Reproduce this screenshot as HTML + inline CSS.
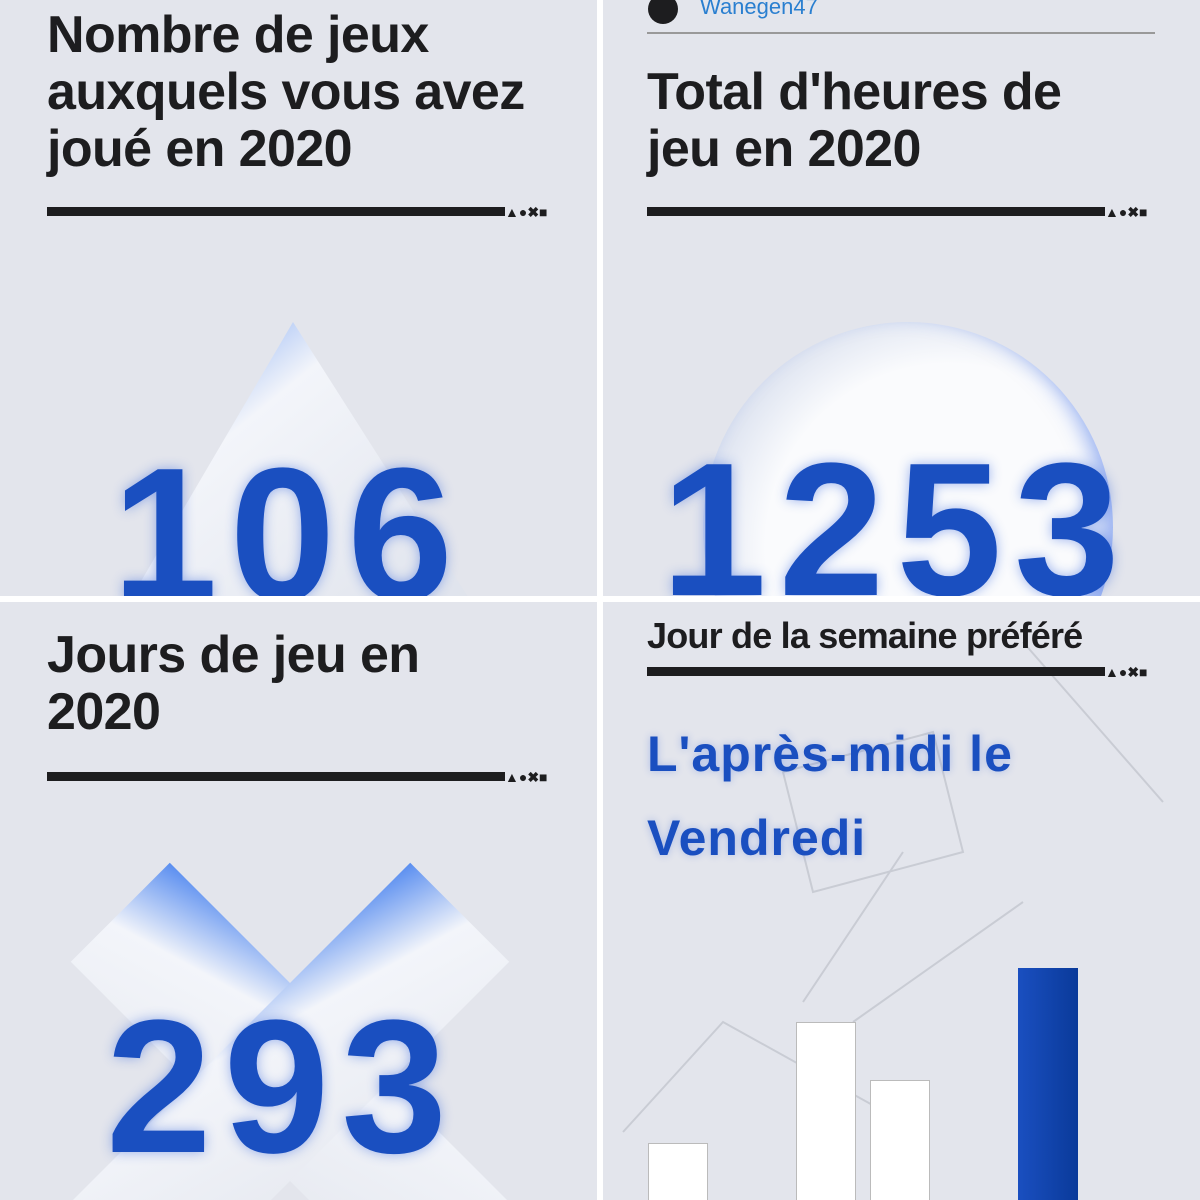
<!DOCTYPE html>
<html><head><meta charset="utf-8"><style>
html,body{margin:0;width:1200px;height:1200px;overflow:hidden}
body{background:#fff;position:relative;font-family:"Liberation Sans",sans-serif}
.p{position:absolute;background:#e3e5ec;overflow:hidden}
.t{position:absolute;color:#1d1d1f;font-weight:bold;font-size:52px;line-height:57px;letter-spacing:-0.6px;white-space:nowrap}
.bar{position:absolute;height:9px;background:#1d1d1f}
.sym{position:absolute;font-size:14px;line-height:14px;font-weight:bold;color:#1d1d1f}
.num{position:absolute;color:#1a4fc0;font-weight:bold;font-size:190px;line-height:190px;letter-spacing:12px;text-shadow:0 0 12px rgba(40,90,220,.45)}
</style></head><body>
<div class="p" style="left:0;top:0;width:597px;height:596px">
 <div class="t" style="left:47px;top:7px">Nombre de jeux<br>auxquels vous avez<br>joué en 2020</div>
 <div class="bar" style="left:47px;top:207px;width:458px"></div><div class="sym" style="left:505px;top:205px">▲●✖■</div>
 <svg style="position:absolute;left:0;top:0" width="597" height="596"><defs><linearGradient id="g1" x1="0" y1="0" x2="1" y2="1"><stop offset="0" stop-color="#5a8ef0"/><stop offset=".35" stop-color="#f3f5fa"/><stop offset="1" stop-color="#dfe3ec"/></linearGradient></defs><polygon points="293,322 130,600 470,600" fill="url(#g1)"/></svg>
 <div class="num" style="left:112px;top:440px">106</div>
</div>
<div class="p" style="left:603px;top:0;width:597px;height:596px">
 <div style="position:absolute;left:45px;top:-6px;width:30px;height:30px;border-radius:50%;background:#1d1d1f"></div>
 <div style="position:absolute;left:97px;top:-6px;font-size:22px;color:#2a7fd0">Wanegen47</div>
 <div style="position:absolute;left:44px;top:32px;width:508px;height:2px;background:#999"></div>
 <div class="t" style="left:44px;top:64px">Total d'heures de<br>jeu en 2020</div>
 <div class="bar" style="left:44px;top:207px;width:458px"></div><div class="sym" style="left:502px;top:205px">▲●✖■</div>
 <div style="position:absolute;left:100px;top:322px;width:410px;height:410px;border-radius:50%;background:radial-gradient(circle at 60% 55%,#fafbfd 55%,#dde3f0 75%);box-shadow:-10px -10px 20px rgba(50,100,230,.5) inset"></div>
 <div class="num" style="left:58px;top:435px">1253</div>
</div>
<div class="p" style="left:0;top:602px;width:597px;height:598px">
 <div class="t" style="left:47px;top:25px">Jours de jeu en<br>2020</div>
 <div class="bar" style="left:47px;top:170px;width:458px"></div><div class="sym" style="left:505px;top:168px">▲●✖■</div>
 <svg style="position:absolute;left:0;top:0" width="597" height="598"><defs><linearGradient id="g3" x1="0" y1="0" x2="1" y2="1"><stop offset="0" stop-color="#5a8ef0"/><stop offset=".3" stop-color="#f3f5fa"/><stop offset="1" stop-color="#e6e9f0"/></linearGradient></defs>
 <g transform="translate(290,480) rotate(45)"><rect x="-240" y="-70" width="480" height="140" fill="url(#g3)"/><rect x="-70" y="-240" width="140" height="480" fill="url(#g3)"/></g></svg>
 <div class="num" style="left:106px;top:390px">293</div>
</div>
<div class="p" style="left:603px;top:602px;width:597px;height:598px">
 <svg style="position:absolute;left:0;top:0" width="597" height="598" fill="none" stroke="#c9ccd4" stroke-width="2"><path d="M180 170 L330 130 L360 250 L210 290 Z"/><path d="M200 400 L300 250 M250 420 L420 300"/><path d="M20 530 L120 420 L300 520"/><path d="M420 40 L560 200"/></svg>
 <div class="t" style="left:44px;top:14px;font-size:36px;line-height:40px;letter-spacing:-0.8px">Jour de la semaine préféré</div>
 <div class="bar" style="left:44px;top:65px;width:458px"></div><div class="sym" style="left:502px;top:63px">▲●✖■</div>
 <div style="position:absolute;left:44px;top:110px;color:#1a4fc0;font-weight:bold;font-size:50px;line-height:84px;letter-spacing:1px;white-space:nowrap;text-shadow:0 0 8px rgba(40,90,220,.3)">L'après-midi le<br>Vendredi</div>
 <div style="position:absolute;left:45px;top:541px;width:58px;height:70px;background:#fff;border:1px solid #bbb"></div>
 <div style="position:absolute;left:193px;top:420px;width:58px;height:190px;background:#fff;border:1px solid #bbb"></div>
 <div style="position:absolute;left:267px;top:478px;width:58px;height:130px;background:#fff;border:1px solid #bbb"></div>
 <div style="position:absolute;left:415px;top:366px;width:60px;height:232px;background:linear-gradient(90deg,#1a4fc0,#0a3a9a)"></div>
</div>
</body></html>
